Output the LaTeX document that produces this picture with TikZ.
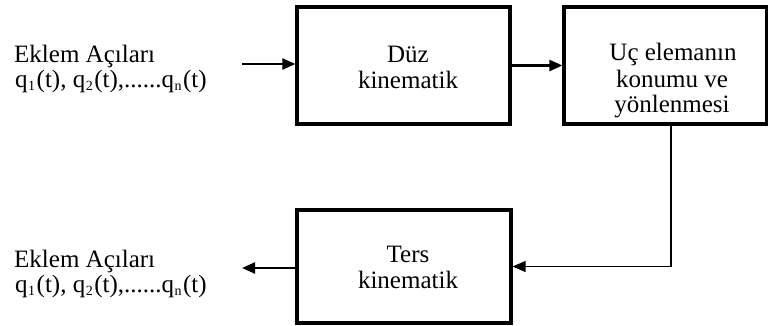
\documentclass[tikz,border=0pt]{standalone}
\usepackage{fontspec}
\setmainfont{Liberation Serif}
\usetikzlibrary{arrows.meta}
\newcommand{\qsub}[1]{q\kern0.5pt\raisebox{-3.5pt}{\fontsize{14}{14}\selectfont #1}\kern1.5pt}
\begin{document}
\begin{tikzpicture}[x=1pt,y=-1pt,
  box/.style={draw,line width=3.2pt,inner sep=0pt,minimum width=#1},
  lbl/.style={anchor=base,inner sep=0pt,font=\fontsize{25}{26}\selectfont},
  lbll/.style={anchor=base west,inner sep=0pt,font=\fontsize{25}{26}\selectfont},
  arr/.style={line width=2.3pt,-{Triangle[length=13pt,width=11pt]}},
  fb/.style={line width=1.3pt,-{Triangle[length=13pt,width=11pt]}}]
\useasboundingbox (0,0) rectangle (768,325);
% boxes
\node[box=213pt,minimum height=117pt] (b1) at (403.5,65.5) {};
\node[box=202.5pt,minimum height=117pt] (b2) at (665.25,65.5) {};
\node[box=214pt,minimum height=113pt] (b3) at (404,266.5) {};
% box texts
\node[lbl] (t1a) at (408,62) {Düz};
\node[lbl] (t1b) at (408,88) {kinematik};
\node[lbl] (t2a) at (673,60) {Uç elemanın};
\node[lbl] (t2b) at (672,87) {konumu ve};
\node[lbl] (t2c) at (672,112) {yönlenmesi};
\node[lbl] (t3a) at (408,262) {Ters};
\node[lbl] (t3b) at (408,288) {kinematik};
% side texts
\node[lbll] (ina) at (14,62) {Eklem Açıları};
\node[lbll] (inb) at (15,87) {\qsub{1}(t), \qsub{2}(t),......\qsub{n}(t)};
\node[lbll] (outa) at (14,267) {Eklem Açıları};
\node[lbll] (outb) at (15,292) {\qsub{1}(t), \qsub{2}(t),......\qsub{n}(t)};
% connectors
\coordinate (cin) at (242,64);
\coordinate (cout) at (242,268);
\coordinate (cf) at (671,266.5);
\draw[arr] (cin) -- (cin -| b1.west);
\draw[arr] (b1.east) -- (b2.west);
\draw[fb] (cf |- b2.south) -- (cf) -- (b3.east);
\draw[arr] (b3.west |- cout) -- (cout);
\end{tikzpicture}
\end{document}
